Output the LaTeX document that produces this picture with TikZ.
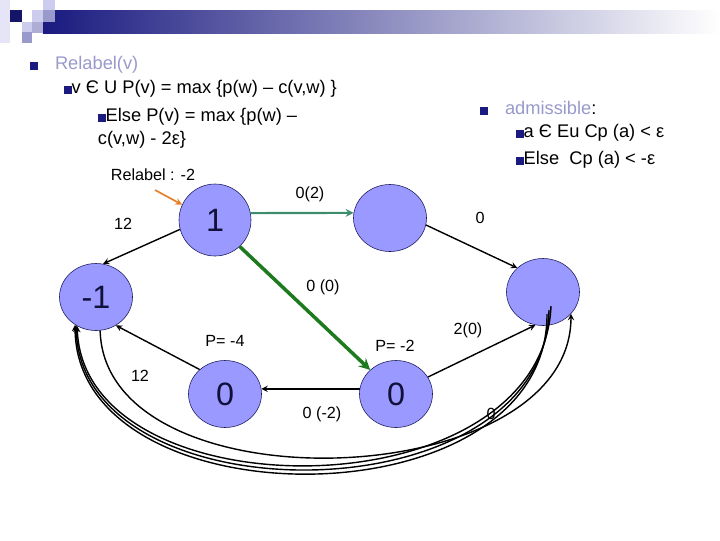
\documentclass[tikz,border=0pt]{standalone}
\usepackage{fontspec}
\setmainfont{Liberation Sans}
\usetikzlibrary{shapes.geometric}
\definecolor{navy}{HTML}{1A1A80}
\definecolor{lilac}{HTML}{9999CC}
\definecolor{pale}{HTML}{CCCCEE}
\definecolor{bubble}{HTML}{9999FF}
\definecolor{rim}{HTML}{1A1A5A}
\definecolor{ink}{HTML}{10103A}
\definecolor{sea}{HTML}{3D8C6C}
\definecolor{leaf}{HTML}{1E7A1E}
\definecolor{amber}{HTML}{E8802A}
\newcommand{\sqb}{{\color{navy}\rule{0.42em}{0.42em}}}

\begin{document}
\begin{tikzpicture}[x=0.025cm,y=-0.025cm,font=\fontsize{11.5}{13}\selectfont,
  vx/.style={ellipse,draw=rim,fill=bubble,minimum width=1.825cm,minimum height=1.675cm,
    inner sep=0pt,text=ink,font=\fontsize{23}{26}\selectfont},
  ed/.style={->,>=stealth,line width=1pt},
  bl/.style={anchor=west,font=\fontsize{13}{15}\selectfont}]
  \useasboundingbox (0,0) rectangle (720,540);
  \shade[left color=navy,right color=white] (43,10) rectangle (720,33);
  \fill[pale!50] (0,0) rectangle (10,43);
  \fill[navy!80!black] (10,10) rectangle (22,22);
  \fill[pale] (32,10) rectangle (43,22);
  \fill[pale] (43,0) rectangle (55,10);
  \fill[lilac] (43,10) rectangle (55,22);
  \fill[pale] (22,22) rectangle (32,32);
  \fill[lilac!80] (32,22) rectangle (43,33);
  \fill[lilac] (22,32) rectangle (32,43);

  \node[bl] (t1) at (25,65) {\sqb\hspace{0.95em}\textcolor{lilac}{Relabel(v)}};
  \node[bl] (t2) at (59,89) {\sqb v Є U P(v) = max \{p(w) – c(v,w) \}};
  \node[bl] (t3) at (93,117) {\sqb Else P(v) = max \{p(w) –};
  \node[bl] (t4) at (93,140) {c(v,w) - 2ε\}};
  \node[bl] (a1) at (475,108) {\sqb\hspace{0.95em}\textcolor{lilac}{admissible}:};
  \node[bl] (a2) at (511,133) {\sqb a Є Eu Cp (a) < ε};
  \node[bl] (a3) at (511,160) {\sqb Else~ Cp (a) < -ε};

  \node[vx,minimum width=1.8cm,minimum height=1.8cm] (one) at (215,220) {1};
  \node[vx] (tr) at (390,218) {};
  \node[vx] (m1) at (96,297) {-1};
  \node[vx] (rt) at (543,292) {};
  \node[vx] (zl) at (225,394) {0};
  \node[vx] (zr) at (396,394) {0};

  \node (rl) at (153,175) {Relabel : -2};
  \coordinate (tip) at (155,190);
  \draw[ed,amber,line width=1.2pt] (tip) -- (one.155);

  \draw[ed,sea,line width=1.5pt] (one.11) -- (tr.172);
  \node (l02) at (310,194) {0(2)};
  \draw[ed] (one.195) -- (m1.78);
  \node (l12a) at (123,224) {12};
  \draw[ed,leaf,line width=2.5pt] (one.-47) -- (zr.137);
  \node (l00) at (323,287) {0 (0)};
  \draw[ed] (tr.-11) -- (rt.137);
  \node (l0a) at (480,218) {0};
  \draw[ed] (zl.136) -- (m1.-55);
  \node (pl) at (225,341) {P= -4};
  \draw[ed] (zr.172) -- (zl.8);
  \node (lm2) at (322,414) {0 (-2)};
  \draw[ed] (zr.28) -- (rt.-103);
  \node (pr) at (395,346) {P= -2};
  \node (l20) at (468,330) {2(0)};

  \draw[ed] ([shift={(6,18)}]rt.center) .. controls (545,520) and (80,520) .. (m1.235);
  \draw[ed] ([shift={(8,14)}]rt.center) .. controls (542,515) and (84,515) .. (m1.237);
  \draw[ed] ([shift={(4,22)}]rt.center) .. controls (548,525) and (76,525) .. (m1.233);
  \draw[ed] (m1.-83) .. controls (105,510) and (570,495) .. (rt.-38);
  \node (l12b) at (140,376) {12};
  \node (l0b) at (491,414) {0};
\end{tikzpicture}
\end{document}
